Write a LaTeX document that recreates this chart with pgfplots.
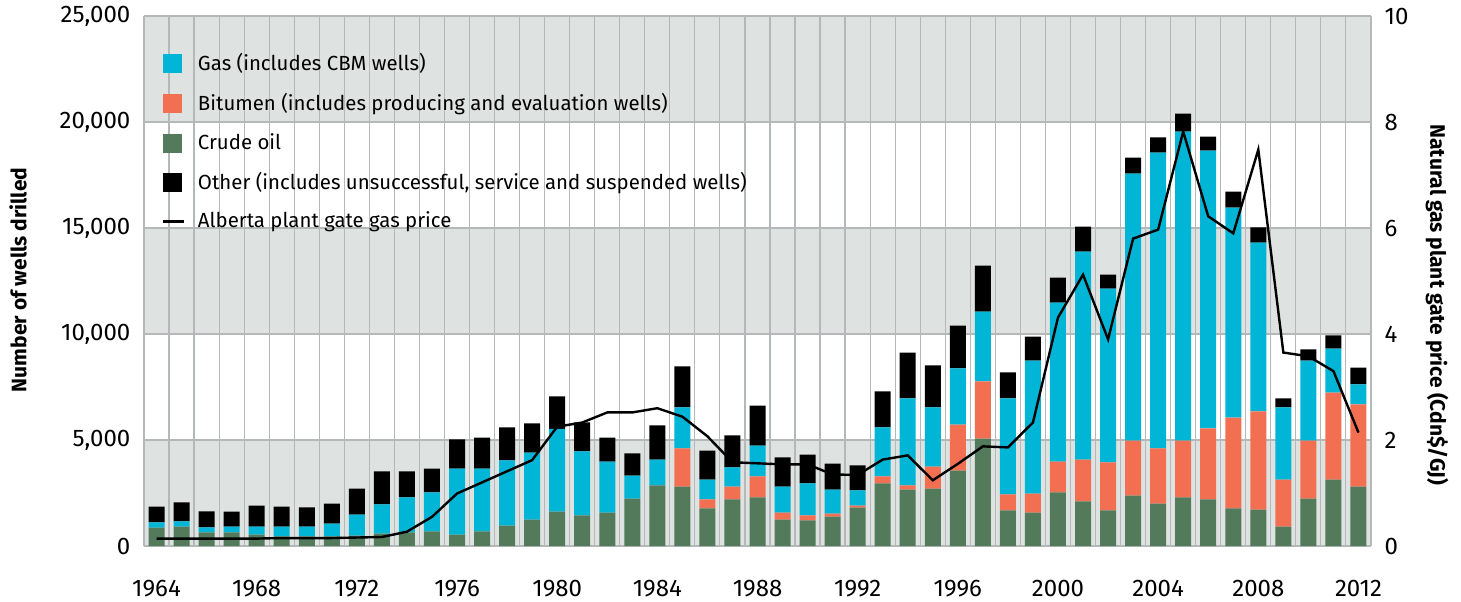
\documentclass[border=0pt]{standalone}
\usepackage{pgfplots}
\pgfplotsset{compat=1.18}
\usepackage{fontspec}
\setmainfont{Fira Sans}
\definecolor{gasc}{HTML}{00B5D5}
\definecolor{bitc}{HTML}{F26F52}
\definecolor{oilc}{HTML}{527A5B}
\definecolor{bandc}{HTML}{DEE3E1}
\definecolor{gridc}{HTML}{B4B8B8}
\begin{document}
\fontsize{11}{13}\selectfont
\begin{tikzpicture}
\useasboundingbox (-72pt,-27.5pt) rectangle (658.5pt,273pt);
\begin{axis}[
  at={(0,0)}, anchor=south west,
  scale only axis, width=613.5pt, height=265pt,
  xmin=1963.5, xmax=2012.5, ymin=0, ymax=25000, hide axis]
\fill[bandc] (axis cs:1963.5,0) rectangle (axis cs:2012.5,5000);
\fill[bandc] (axis cs:1963.5,10000) rectangle (axis cs:2012.5,15000);
\fill[bandc] (axis cs:1963.5,20000) rectangle (axis cs:2012.5,25000);
\end{axis}
\begin{axis}[
  at={(0,0)}, anchor=south west,
  scale only axis, width=613.5pt, height=265pt,
  ybar stacked, bar width=8pt,
  xmin=1963.5, xmax=2012.5, ymin=0, ymax=25000,
  xtick={1964,1968,...,2012},
  minor xtick={1963.5,1964.5,...,2012.5},
  ytick={0,5000,...,25000},
  xminorgrids=true, ymajorgrids=true, xmajorgrids=false,
  minor grid style={gridc, line width=0.6pt},
  major grid style={gridc, line width=0.6pt},
  axis line style={gridc, line width=0.6pt},
  axis y line*=left, axis x line*=bottom,
  major tick length=0pt, minor tick length=0pt,
  scaled y ticks=false,
  /pgf/number format/assume math mode=true,
  tick label style={font=\fontsize{12}{14}\selectfont},
  yticklabel style={/pgf/number format/1000 sep={,}, xshift=-3pt},
  xticklabel style={/pgf/number format/1000 sep={}, yshift=-13pt},
  ylabel={Number of wells drilled},
  ylabel style={at={(axis description cs:-0.1027,0.502)}, rotate=0, anchor=center, font=\bfseries\fontsize{10.5}{13}\selectfont},
  legend cell align=left,
  legend style={at={(axis description cs:0.014,0.930)}, anchor=north west, draw=none, fill=none, inner sep=0pt,
    row sep=9.7pt, column sep=6.5pt, font=\fontsize{10.2}{12}\selectfont, nodes={inner sep=0pt}},
]
% Crude oil
\addplot[fill=oilc, draw=none, forget plot] coordinates {
(1964,870) (1965,920) (1966,640) (1967,640) (1968,540) (1969,450) (1970,450) (1971,450)
(1972,495) (1973,590) (1974,640) (1975,685) (1976,540) (1977,685) (1978,965) (1979,1250)
(1980,1625) (1981,1440) (1982,1580) (1983,2240) (1984,2855) (1985,2805) (1986,1770) (1987,2195)
(1988,2290) (1989,1250) (1990,1205) (1991,1390) (1992,1815) (1993,2950) (1994,2665) (1995,2710)
(1996,3560) (1997,5070) (1998,1675) (1999,1580) (2000,2525) (2001,2100) (2002,1675) (2003,2380)
(2004,2005) (2005,2290) (2006,2195) (2007,1770) (2008,1720) (2009,920) (2010,2240) (2011,3135) (2012,2805)};
% Bitumen
\addplot[fill=bitc, draw=none, forget plot] coordinates {
(1964,0) (1965,0) (1966,0) (1967,0) (1968,0) (1969,0) (1970,0) (1971,0)
(1972,0) (1973,0) (1974,0) (1975,0) (1976,0) (1977,0) (1978,0) (1979,0)
(1980,0) (1981,0) (1982,0) (1983,0) (1984,0) (1985,1795) (1986,425) (1987,610)
(1988,990) (1989,330) (1990,235) (1991,140) (1992,95) (1993,330) (1994,190) (1995,1040)
(1996,2170) (1997,2690) (1998,755) (1999,895) (2000,1460) (2001,1980) (2002,2265) (2003,2595)
(2004,2595) (2005,2685) (2006,3350) (2007,4290) (2008,4625) (2009,2215) (2010,2735) (2011,4105) (2012,3870)};
% Gas
\addplot[fill=gasc, draw=none, forget plot] coordinates {
(1964,240) (1965,240) (1966,235) (1967,280) (1968,380) (1969,470) (1970,470) (1971,610)
(1972,990) (1973,1370) (1974,1650) (1975,1840) (1976,3115) (1977,2970) (1978,3070) (1979,3160)
(1980,3900) (1981,3020) (1982,2405) (1983,1085) (1984,1225) (1985,1935) (1986,940) (1987,900)
(1988,1460) (1989,1225) (1990,1510) (1991,1135) (1992,710) (1993,2310) (1994,4105) (1995,2785)
(1996,2645) (1997,3300) (1998,4530) (1999,6275) (2000,7500) (2001,9810) (2002,8205) (2003,12595)
(2004,13960) (2005,14575) (2006,13110) (2007,9905) (2008,7970) (2009,3400) (2010,3775) (2011,2075) (2012,945)};
% Other
\addplot[fill=black, draw=none, forget plot] coordinates {
(1964,750) (1965,900) (1966,755) (1967,705) (1968,990) (1969,940) (1970,900) (1971,945)
(1972,1225) (1973,1555) (1974,1225) (1975,1130) (1976,1370) (1977,1460) (1978,1555) (1979,1370)
(1980,1530) (1981,1370) (1982,1130) (1983,1040) (1984,1605) (1985,1935) (1986,1370) (1987,1510)
(1988,1885) (1989,1370) (1990,1365) (1991,1225) (1992,1180) (1993,1700) (1994,2165) (1995,1980)
(1996,2025) (1997,2170) (1998,1225) (1999,1130) (2000,1180) (2001,1180) (2002,660) (2003,755)
(2004,710) (2005,850) (2006,660) (2007,755) (2008,710) (2009,425) (2010,520) (2011,615) (2012,800)};
\addlegendimage{legend image code/.code={\fill[gasc] (0pt,-4.5pt) rectangle (9pt,4.5pt);}}
\addlegendentry{Gas (includes CBM wells)}
\addlegendimage{legend image code/.code={\fill[bitc] (0pt,-4.5pt) rectangle (9pt,4.5pt);}}
\addlegendentry{Bitumen (includes producing and evaluation wells)}
\addlegendimage{legend image code/.code={\fill[oilc] (0pt,-4.5pt) rectangle (9pt,4.5pt);}}
\addlegendentry{Crude oil}
\addlegendimage{legend image code/.code={\fill[black] (0pt,-4.5pt) rectangle (9pt,4.5pt);}}
\addlegendentry{Other (includes unsuccessful, service and suspended wells)}
\addlegendimage{legend image code/.code={\draw[black, line width=1.2pt] (-0.5pt,0pt) -- (10pt,0pt);}}
\addlegendentry{Alberta plant gate gas price}
\end{axis}
\begin{axis}[
  at={(0,0)}, anchor=south west,
  scale only axis, width=613.5pt, height=265pt,
  xmin=1963.5, xmax=2012.5, ymin=0, ymax=10,
  axis x line=none, axis y line*=right,
  axis line style={gridc, line width=0.6pt},
  ytick={0,2,...,10},
  major tick length=0pt,
  /pgf/number format/assume math mode=true,
  tick label style={font=\fontsize{12}{14}\selectfont},
  yticklabel style={xshift=3pt},
  ylabel={Natural gas plant gate price (Cdn\$/GJ)},
  ylabel style={at={(axis description cs:1.0538,0.455)}, rotate=180, anchor=center, font=\bfseries\fontsize{10.5}{13}\selectfont},
]
\addplot[black, line width=1.2pt, mark=none] coordinates {
(1964,0.14) (1965,0.14) (1966,0.14) (1967,0.14) (1968,0.14) (1969,0.15) (1970,0.15) (1971,0.15)
(1972,0.16) (1973,0.17) (1974,0.27) (1975,0.55) (1976,0.99) (1977,1.2) (1978,1.41) (1979,1.62)
(1980,2.25) (1981,2.33) (1982,2.52) (1983,2.52) (1984,2.6) (1985,2.44) (1986,2.07) (1987,1.58)
(1988,1.56) (1989,1.54) (1990,1.54) (1991,1.35) (1992,1.34) (1993,1.63) (1994,1.71) (1995,1.24)
(1996,1.55) (1997,1.88) (1998,1.86) (1999,2.33) (2000,4.31) (2001,5.12) (2002,3.9) (2003,5.8)
(2004,5.97) (2005,7.82) (2006,6.22) (2007,5.9) (2008,7.48) (2009,3.65) (2010,3.58) (2011,3.3) (2012,2.14)};
\end{axis}
\end{tikzpicture}
\end{document}
